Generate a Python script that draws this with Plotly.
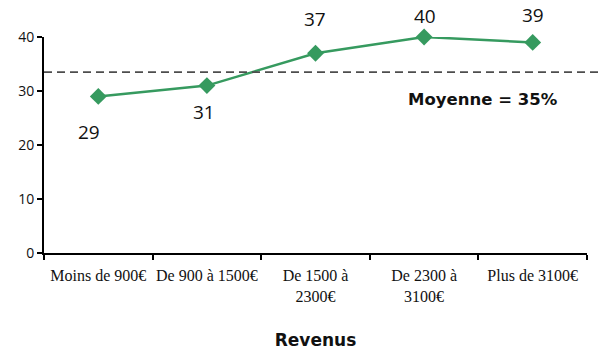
import plotly.graph_objects as go

categories = ["Moins de 900€", "De 900 à 1500€", "De 1500 à<br>2300€", "De 2300 à<br>3100€", "Plus de 3100€"]
values = [29, 31, 37, 40, 39]
mean_line = 33.5
mean_text = "Moyenne = 35%"
y_ticks = [0, 10, 20, 30, 40]

green = "#369a5f"

fig = go.Figure()
fig.add_trace(go.Scatter(
    x=categories, y=values, mode="lines+markers",
    line=dict(color=green, width=2.5),
    marker=dict(symbol="diamond", size=13, color=green),
    hoverinfo="skip", showlegend=False, cliponaxis=False,
))

# value labels: below for the first two points, above for the rest
label_shift = [-36, -26, 34, 21, 27]
label_dx = [-9, -3, -1, 1, 0]
for c, v, dy, dx in zip(categories, values, label_shift, label_dx):
    fig.add_annotation(x=c, y=v, text=str(v), showarrow=False, yshift=dy, xshift=dx,
                       font=dict(family="Open Sans, DejaVu Sans", size=19, color="#111"))

fig.add_shape(type="line", xref="paper", x0=0, x1=1.05, yref="y", y0=mean_line, y1=mean_line,
              line=dict(color="#4d4d4d", width=1.8, dash="8px,5px"))
fig.add_annotation(xref="paper", x=0.808, xanchor="center", yref="y", y=mean_line, yshift=-27,
                   text="<b>" + mean_text + "</b>", showarrow=False,
                   font=dict(family="DejaVu Sans", size=16.5, color="#111"))

fig.update_layout(
    width=603, height=355,
    margin=dict(l=44, r=16, t=37, b=102),
    plot_bgcolor="white", paper_bgcolor="white",
    xaxis=dict(
        type="category", showline=True, linecolor="black", linewidth=2,
        ticks="outside", tickson="boundaries", ticklen=5, tickwidth=2, tickcolor="black",
        tickangle=0, automargin=False, ticklabelstandoff=7,
        tickfont=dict(family="Liberation Serif, Times New Roman", size=16, color="#111"),
        showgrid=False, zeroline=False, range=[-0.5, 4.5],
        title=dict(text="<b>Revenus</b>", font=dict(family="DejaVu Sans", size=17, color="#111"), standoff=30),
    ),
    yaxis=dict(
        range=[0, 40], tickvals=y_ticks, showline=True, linecolor="black", linewidth=2,
        ticks="outside", ticklen=5, tickwidth=2, tickcolor="black", automargin=False,
        tickfont=dict(family="Open Sans, DejaVu Sans", size=14, color="#111"),
        showgrid=False, zeroline=False,
    ),
)

fig.write_html("out.html")
